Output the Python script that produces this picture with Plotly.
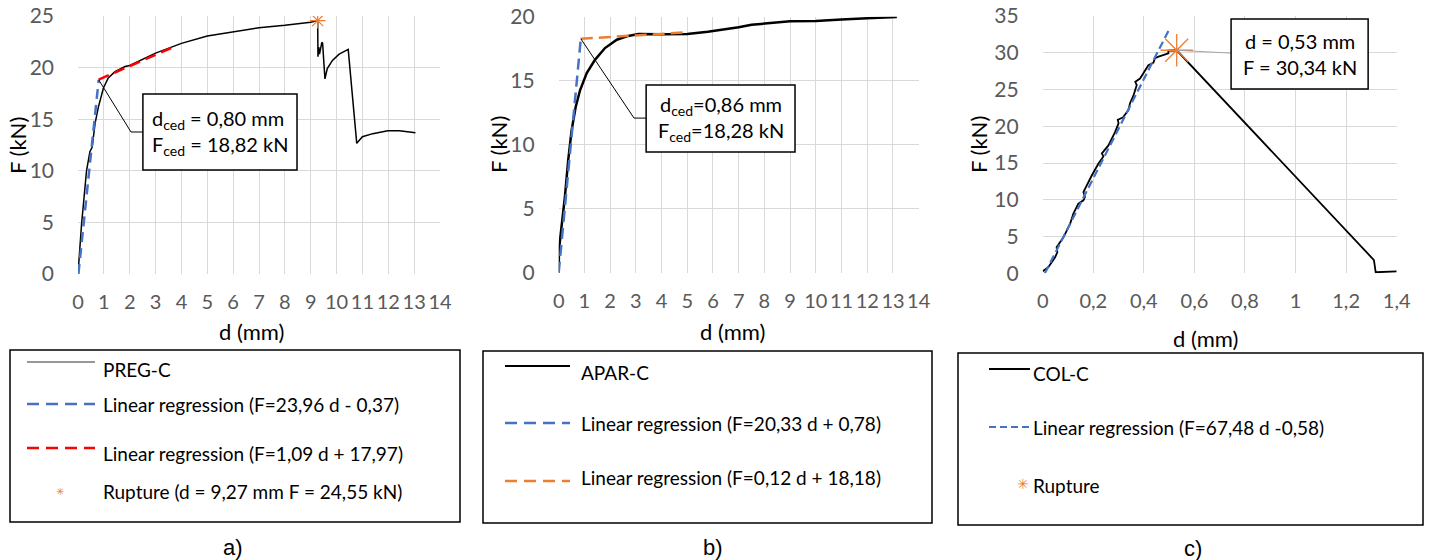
import plotly.graph_objects as go

W, H = 1431, 560

# ---------------- data ----------------
# a) PREG-C
preg_d = [0, 0.14, 0.33, 0.46, 0.55, 0.66, 0.79, 0.98, 1.17, 1.43, 1.82, 2.0, 3.0, 4.0, 5.0,
          6.0, 7.0, 8.0, 9.0, 9.27, 9.28, 9.31, 9.34, 9.43, 9.46, 9.55, 9.64, 9.84, 10.1,
          10.45, 10.78, 11.0, 11.4, 11.98, 12.43, 13.05]
preg_F = [0, 4.9, 10.0, 11.85, 12.3, 14.6, 16.2, 18.0, 19.0, 19.6, 20.1, 20.2, 21.4, 22.35, 23.06,
          23.48, 23.87, 24.1, 24.39, 24.55, 21.05, 22.0, 21.3, 22.45, 22.35, 18.9, 19.9, 20.7, 21.3,
          21.77, 12.66, 13.3, 13.6, 13.88, 13.88, 13.69]
preg_reg1_d = [0.015, 0.80]
preg_reg1_F = [0.0, 18.80]
preg_reg2_d = [0.80, 3.75]
preg_reg2_F = [18.84, 22.06]
preg_rup_d = [9.27]
preg_rup_F = [24.55]

# b) APAR-C
apar_d = [0, 0.01, 0.11, 0.24, 0.37, 0.5, 0.66, 0.83, 1.09, 1.41, 1.8, 2.26, 2.71, 3.1, 4.0, 5.0,
          5.8, 6.0, 7.0, 7.5, 8.0, 9.0, 10.0, 10.5, 11.0, 12.0, 13.0, 13.15]
apar_F = [0, 1.77, 3.6, 5.9, 8.8, 11.1, 12.95, 14.25, 15.6, 16.63, 17.55, 18.2, 18.5, 18.65, 18.62,
          18.65, 18.83, 18.88, 19.17, 19.37, 19.48, 19.64, 19.66, 19.74, 19.79, 19.87, 19.97, 19.97]
apar_reg1_d = [0.0, 0.86]
apar_reg1_F = [0.0, 18.28]
apar_reg2_d = [0.86, 4.85]
apar_reg2_F = [18.28, 18.76]

# c) COL-C
col_d = [0, 0.022, 0.049, 0.058, 0.055, 0.082, 0.108, 0.121, 0.141, 0.161, 0.167, 0.161, 0.194,
         0.22, 0.24, 0.234, 0.26, 0.286, 0.30, 0.297, 0.317, 0.339, 0.345, 0.359, 0.372, 0.366,
         0.385, 0.405, 0.418, 0.438, 0.444, 0.458, 0.497, 0.497, 0.53, 1.31, 1.317, 1.4]
col_F = [0.27, 0.82, 2.18, 2.87, 3.55, 4.9, 6.7, 8.1, 9.47, 9.92, 10.4, 11.05, 13.3,
         14.9, 15.9, 16.3, 17.4, 19.2, 20.4, 20.9, 21.2, 22.2, 23.1, 24.2, 25.6, 26.05,
         26.5, 27.65, 28.3, 28.65, 29.25, 29.47, 29.93, 30.29, 30.34, 1.8, 0.14, 0.27]
col_reg_d = [0.0086, 0.50]
col_reg_F = [0.0, 33.16]
col_rup_d = [0.53]
col_rup_F = [30.34]

# ticks
ticks_ab_x = list(range(0, 15))
ticks_ab_x_text = [str(v) for v in ticks_ab_x]
ticks_a_y = [0, 5, 10, 15, 20, 25]
ticks_b_y = [0, 5, 10, 15, 20]
ticks_c_x = [0, 0.2, 0.4, 0.6, 0.8, 1.0, 1.2, 1.4]
ticks_c_x_text = ["0", "0,2", "0,4", "0,6", "0,8", "1", "1,2", "1,4"]
ticks_c_y = [0, 5, 10, 15, 20, 25, 30, 35]

# legend / annotation texts
leg_a = ["PREG-C", "Linear regression (F=23,96 d - 0,37)",
         "Linear regression (F=1,09 d + 17,97)", "Rupture (d = 9,27 mm F = 24,55 kN)"]
leg_b = ["APAR-C", "Linear regression (F=20,33 d + 0,78)", "Linear regression (F=0,12 d + 18,18)"]
leg_c = ["COL-C", "Linear regression (F=67,48 d -0,58)", "Rupture"]
box_a = "d<sub>ced</sub> = 0,80 mm<br>F<sub>ced</sub> = 18,82 kN"
box_b = "d<sub>ced</sub>=0,86 mm<br>F<sub>ced</sub>=18,28 kN"
box_c = "d = 0,53 mm<br>F = 30,34 kN"

# ---------------- styling ----------------
BLUE = "#4472C4"
RED = "#FF0000"
ORANGE = "#ED7D31"
GRID = "#D9D9D9"
TICKC = "#595959"
FONT = "Lato"


def P(x):
    return x / W


def Q(y):
    return 1 - y / H


fig = go.Figure()

# a
fig.add_trace(go.Scatter(x=preg_d, y=preg_F, mode="lines", line=dict(color="black", width=1.5),
                         xaxis="x", yaxis="y", showlegend=False))
fig.add_trace(go.Scatter(x=preg_reg1_d, y=preg_reg1_F, mode="lines",
                         line=dict(color=BLUE, width=2.5, dash="10px,6px"),
                         xaxis="x", yaxis="y", showlegend=False))
fig.add_trace(go.Scatter(x=preg_reg2_d, y=preg_reg2_F, mode="lines",
                         line=dict(color=RED, width=2.5, dash="11px,6px"),
                         xaxis="x", yaxis="y", showlegend=False))
fig.add_trace(go.Scatter(x=preg_rup_d, y=preg_rup_F, mode="markers",
                         marker=dict(symbol="asterisk-open", size=13, color=ORANGE,
                                     line=dict(color=ORANGE, width=1.2)),
                         xaxis="x", yaxis="y", showlegend=False))
# b
fig.add_trace(go.Scatter(x=apar_d, y=apar_F, mode="lines", line=dict(color="black", width=2.5),
                         xaxis="x2", yaxis="y2", showlegend=False))
fig.add_trace(go.Scatter(x=apar_reg1_d, y=apar_reg1_F, mode="lines",
                         line=dict(color=BLUE, width=2.5, dash="11px,6px"),
                         xaxis="x2", yaxis="y2", showlegend=False))
fig.add_trace(go.Scatter(x=apar_reg2_d, y=apar_reg2_F, mode="lines",
                         line=dict(color=ORANGE, width=2.5, dash="12px,6px"),
                         xaxis="x2", yaxis="y2", showlegend=False))
# c
fig.add_trace(go.Scatter(x=col_d, y=col_F, mode="lines", line=dict(color="black", width=1.8),
                         xaxis="x3", yaxis="y3", showlegend=False))
fig.add_trace(go.Scatter(x=col_reg_d, y=col_reg_F, mode="lines",
                         line=dict(color=BLUE, width=2.2, dash="8px,4px"),
                         xaxis="x3", yaxis="y3", showlegend=False))
fig.add_trace(go.Scatter(x=col_rup_d, y=col_rup_F, mode="markers",
                         marker=dict(symbol="asterisk-open", size=27, color=ORANGE,
                                     line=dict(color=ORANGE, width=1.3)),
                         xaxis="x3", yaxis="y3", showlegend=False))


def xax(domain, rng, tv, tt, anchor):
    return dict(domain=domain, range=rng, anchor=anchor, tickvals=tv, ticktext=tt, tickangle=0,
                automargin=False,
                showgrid=True, gridcolor=GRID, gridwidth=1, zeroline=False, showline=False,
                ticks="", ticklabelstandoff=14, tickfont=dict(family=FONT, size=20, color=TICKC),
                fixedrange=True)


def yax(domain, rng, tv, anchor):
    return dict(domain=domain, range=rng, anchor=anchor, tickvals=tv, ticktext=[str(v) for v in tv],
                automargin=False,
                showgrid=True, gridcolor=GRID, gridwidth=1, zeroline=False, showline=False,
                ticks="", ticklabelstandoff=23, tickfont=dict(family=FONT, size=21, color=TICKC),
                fixedrange=True)


shapes = []
annotations = []

# annotation boxes (data coords)
shapes.append(dict(type="rect", xref="x", yref="y", x0=2.51, x1=8.47, y0=10.08, y1=17.44,
                   fillcolor="white", line=dict(color="black", width=1.5), layer="above"))
shapes.append(dict(type="path", xref="x", yref="y", path="M 0.80,18.82 L 2.05,13.76 L 2.51,13.76",
                   line=dict(color="black", width=1), layer="above"))
annotations.append(dict(xref="x", yref="y", x=5.49, y=13.76, text=box_a, showarrow=False,
                        xanchor="center", yanchor="middle",
                        font=dict(family=FONT, size=20, color="black"), align="left"))

shapes.append(dict(type="rect", xref="x2", yref="y2", x0=3.40, x1=9.19, y0=9.43, y1=14.66,
                   fillcolor="white", line=dict(color="black", width=1.5), layer="above"))
shapes.append(dict(type="path", xref="x2", yref="y2", path="M 0.86,18.28 L 2.93,12.08 L 3.40,12.08",
                   line=dict(color="black", width=1), layer="above"))
annotations.append(dict(xref="x2", yref="y2", x=6.30, y=12.05, text=box_b, showarrow=False,
                        xanchor="center", yanchor="middle",
                        font=dict(family=FONT, size=20, color="black"), align="center"))

shapes.append(dict(type="path", xref="x3", yref="y3", path="M 0.53,30.34 L 0.745,29.95",
                   line=dict(color="#A6A6A6", width=1), layer="above"))
shapes.append(dict(type="rect", xref="x3", yref="y3", x0=0.745, x1=1.287, y0=25.06, y1=34.6,
                   fillcolor="white", line=dict(color="black", width=1.5), layer="above"))
annotations.append(dict(xref="x3", yref="y3", x=1.016, y=29.85, text=box_c, showarrow=False,
                        xanchor="center", yanchor="middle",
                        font=dict(family=FONT, size=20, color="black"), align="center"))

# axis titles
for (x, y) in [(18, 146), (499, 145), (979, 145)]:
    annotations.append(dict(xref="paper", yref="paper", x=P(x), y=Q(y), text="F (kN)", textangle=-90,
                            xanchor="center", yanchor="middle",
                            showarrow=False, font=dict(family=FONT, size=22, color="black")))
for (x, y) in [(251, 331), (732, 331), (1205, 338)]:
    annotations.append(dict(xref="paper", yref="paper", x=P(x), y=Q(y), text="d (mm)",
                            xanchor="center", yanchor="middle",
                            showarrow=False, font=dict(family=FONT, size=22, color="black")))

# panel labels
for (x, y, t) in [(233, 547, "a)"), (713, 547, "b)"), (1193, 548, "c)")]:
    annotations.append(dict(xref="paper", yref="paper", x=P(x), y=Q(y), text=t, showarrow=False,
                            xanchor="center", yanchor="middle",
                            font=dict(family="Liberation Sans", size=22, color="black")))

# legend boxes
for (x0, y0, x1, y1) in [(10, 350, 460, 522), (483, 351, 932, 523), (958, 353, 1423, 525)]:
    shapes.append(dict(type="rect", xref="paper", yref="paper", x0=P(x0), x1=P(x1), y0=Q(y1), y1=Q(y0),
                       line=dict(color="black", width=1.5), fillcolor="rgba(0,0,0,0)"))


def leg_line(x0, x1, y, color, width, dash):
    shapes.append(dict(type="line", xref="paper", yref="paper", x0=P(x0), x1=P(x1), y0=Q(y), y1=Q(y),
                       line=dict(color=color, width=width, dash=dash)))


def leg_text(x, y, t):
    annotations.append(dict(xref="paper", yref="paper", x=P(x), y=Q(y), text=t, showarrow=False,
                            xanchor="left", yanchor="middle",
                            font=dict(family=FONT, size=19, color="black")))


def leg_mark(x, y, size):
    annotations.append(dict(xref="paper", yref="paper", x=P(x), y=Q(y), text="✳", showarrow=False,
                            xanchor="center", yanchor="middle",
                            font=dict(family="DejaVu Sans", size=size, color=ORANGE)))


# legend a
leg_line(27, 95, 362, "#333333", 1.2, "solid")
leg_text(101, 369, leg_a[0])
leg_line(27, 95, 404, BLUE, 2.5, "12px,7px")
leg_text(101, 404, leg_a[1])
leg_line(27, 95, 448, RED, 2.5, "12px,7px")
leg_text(101, 453, leg_a[2])
leg_mark(60, 491, 10)
leg_text(101, 491, leg_a[3])

# legend b
leg_line(505, 570, 366, "black", 1.8, "solid")
leg_text(579, 372, leg_b[0])
leg_line(505, 570, 423, BLUE, 2.5, "12px,7px")
leg_text(579, 423, leg_b[1])
leg_line(505, 570, 481, ORANGE, 2.5, "12px,7px")
leg_text(579, 477, leg_b[2])

# legend c
leg_line(989, 1030, 369, "black", 1.8, "solid")
leg_text(1031, 373, leg_c[0])
leg_line(989, 1030, 427, BLUE, 2.2, "7px,4px")
leg_text(1031, 427, leg_c[1])
leg_mark(1023, 484, 14)
leg_text(1031, 485, leg_c[2])

fig.update_layout(
    template="none",
    width=W, height=H, autosize=False,
    margin=dict(l=0, r=0, t=0, b=0, pad=0),
    paper_bgcolor="white", plot_bgcolor="white",
    showlegend=False,
    font=dict(family=FONT),
    xaxis=xax([P(78), P(440)], [0, 14], ticks_ab_x, ticks_ab_x_text, "y"),
    yaxis=yax([Q(274), Q(16)], [0, 25], ticks_a_y, "x"),
    xaxis2=xax([P(558.7), P(918.7)], [0, 14], ticks_ab_x, ticks_ab_x_text, "y2"),
    yaxis2=yax([Q(272.7), Q(16.7)], [0, 20], ticks_b_y, "x2"),
    xaxis3=xax([P(1042.7), P(1396.7)], [0, 1.4], ticks_c_x, ticks_c_x_text, "y3"),
    yaxis3=yax([Q(273.3), Q(16)], [0, 35], ticks_c_y, "x3"),
    shapes=shapes,
    annotations=annotations,
)

fig.write_html("out.html", config={"displayModeBar": False},
               post_script="document.body.style.margin='0';document.body.style.padding='0';")
